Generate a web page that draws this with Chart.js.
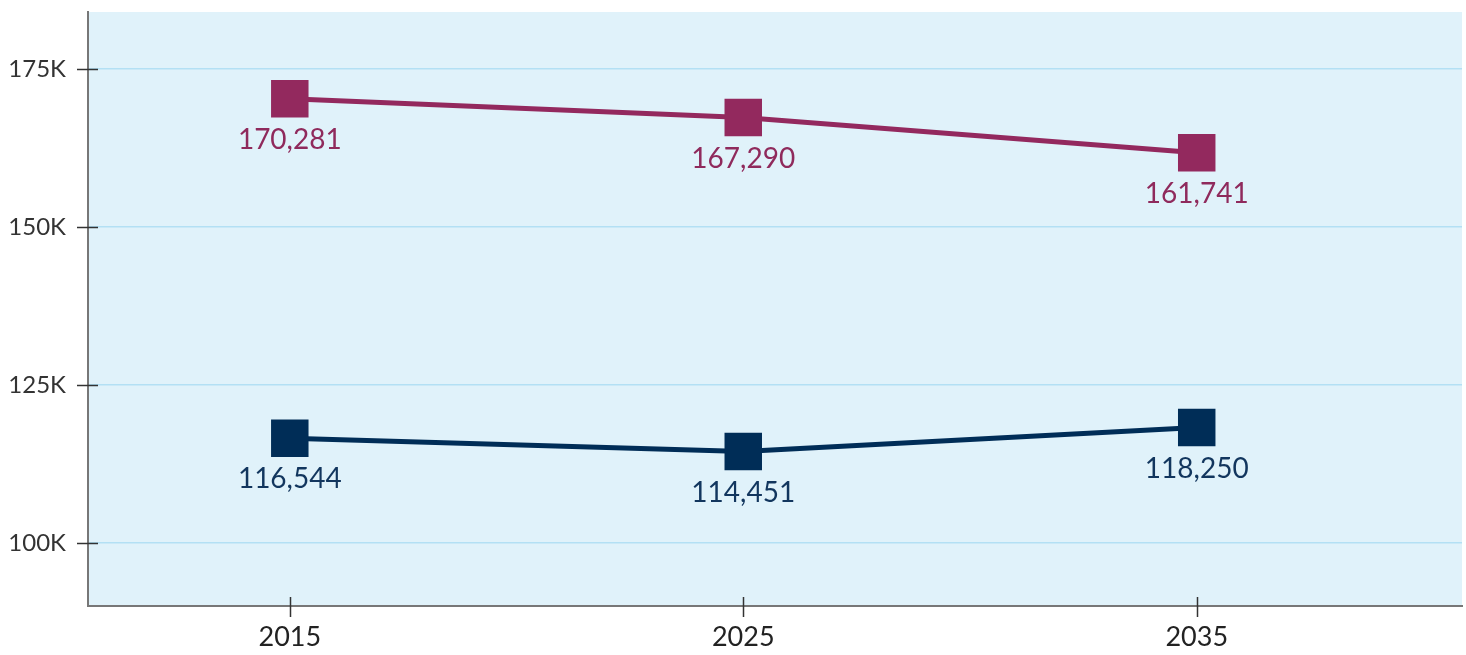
<!DOCTYPE html>
<html>
<head>
<meta charset="utf-8">
<script src="https://cdn.jsdelivr.net/npm/chart.js@4"></script>
<style>
  html, body { margin: 0; padding: 0; background: #ffffff; }
  #wrap { width: 1466px; height: 655px; }
</style>
</head>
<body>
<div id="wrap"><canvas id="chart_canvas"></canvas></div>
<script>
// data
const years = [2015, 2025, 2035]
const seriesTop = [170281, 167290, 161741]
const seriesBottom = [116544, 114451, 118250]
const yTicks = [100000, 125000, 150000, 175000]

const purple = '#93295e'
const navy = '#002d57'

// fond de la zone du graphique
const areaBg = {
    id: 'areaBg',
    beforeDraw(chart) {
        const {ctx, chartArea: {left, top, right, bottom}} = chart
        ctx.save()
        ctx.fillStyle = '#e0f2fa'
        ctx.fillRect(left, top, right - left, bottom - top)
        ctx.restore()
    }
}

// petits traits qui traversent les axes
const crossTicks = {
    id: 'crossTicks',
    afterDraw(chart) {
        const {ctx, chartArea: {left, bottom}, scales: {x, y}} = chart
        ctx.save()
        ctx.strokeStyle = '#333'
        ctx.lineWidth = 1.5
        y.ticks.forEach(t => {
            const py = Math.round(y.getPixelForValue(t.value)) + 0.5
            ctx.beginPath()
            ctx.moveTo(left - 11, py)
            ctx.lineTo(left + 10, py)
            ctx.stroke()
        })
        x.ticks.forEach(t => {
            const px = Math.round(x.getPixelForValue(t.value)) + 0.5
            ctx.beginPath()
            ctx.moveTo(px, bottom - 9)
            ctx.lineTo(px, bottom + 11)
            ctx.stroke()
        })
        ctx.restore()
    }
}

// étiquettes de valeurs sous les points
const valueLabels = {
    id: 'valueLabels',
    afterDatasetsDraw(chart) {
        const ctx = chart.ctx
        ctx.save()
        ctx.font = '400 28px Lato'
        ctx.textAlign = 'center'
        ctx.textBaseline = 'middle'
        chart.data.datasets.forEach((ds, i) => {
            const meta = chart.getDatasetMeta(i)
            ctx.fillStyle = ds.labelColor
            meta.data.forEach((pt, j) => {
                ctx.fillText(ds.data[j].y.toLocaleString('en-US'), pt.x, pt.y + 41)
            })
        })
        ctx.restore()
    }
}

const data = {
    datasets: [{
        data: years.map((v, i) => ({x: v, y: seriesTop[i]})),
        borderColor: purple,
        backgroundColor: purple,
        labelColor: '#8f2a5c',
        borderWidth: 5,
        pointStyle: 'rect',
        pointRadius: 26.5,
        pointBorderWidth: 0,
        tension: 0
    }, {
        data: years.map((v, i) => ({x: v, y: seriesBottom[i]})),
        borderColor: navy,
        backgroundColor: navy,
        labelColor: '#12365e',
        borderWidth: 5,
        pointStyle: 'rect',
        pointRadius: 26.5,
        pointBorderWidth: 0,
        tension: 0
    }]
}

const config = {
    type: 'line',
    data,
    options: {
        responsive: true,
        maintainAspectRatio: false,
        animation: false,
        layout: {
            autoPadding: false,
            padding: {top: 12, right: 4, left: 0, bottom: 0}
        },
        scales: {
            x: {
                type: 'linear',
                min: 2010.55,
                max: 2040.85,
                afterBuildTicks: scale => { scale.ticks = years.map(v => ({value: v})) },
                afterFit: scale => {
                    scale.height = 49
                    scale.paddingLeft = 0
                    scale.paddingRight = 0
                },
                grid: {display: false, drawTicks: false},
                border: {display: true, color: '#777', width: 2},
                ticks: {
                    padding: 15,
                    color: '#222',
                    font: {family: 'Lato', size: 27},
                    callback: v => String(v)
                }
            },
            y: {
                min: 90000,
                max: 184000,
                afterBuildTicks: scale => { scale.ticks = yTicks.map(v => ({value: v})) },
                afterFit: scale => {
                    scale.width = 88
                    scale.paddingTop = 0
                    scale.paddingBottom = 0
                },
                grid: {color: '#b3e0f4', lineWidth: 1.5, drawTicks: false},
                border: {display: true, color: '#777', width: 2},
                ticks: {
                    padding: 22,
                    color: '#333',
                    font: {family: 'Lato', size: 24},
                    callback: v => (v / 1000) + 'K'
                }
            }
        },
        plugins: {
            legend: {display: false},
            tooltip: {enabled: false}
        }
    },
    plugins: [areaBg, valueLabels, crossTicks]
}

new Chart(document.getElementById('chart_canvas').getContext('2d'), config)
</script>
</body>
</html>
